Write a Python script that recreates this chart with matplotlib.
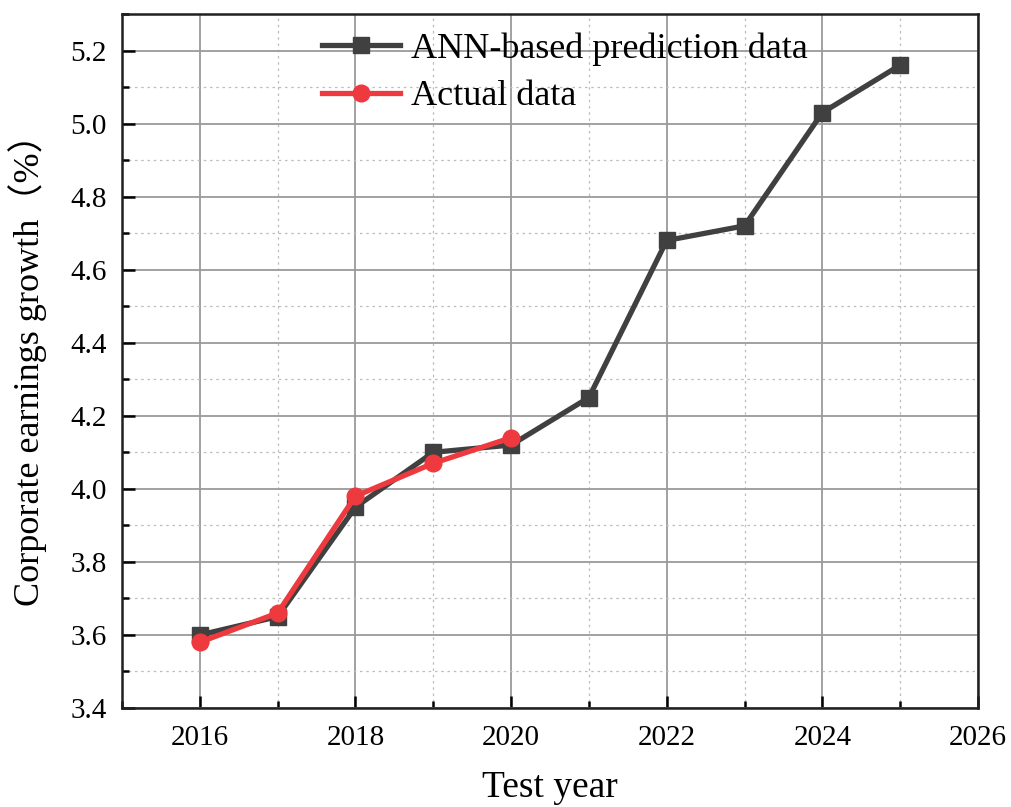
import matplotlib.pyplot as plt
from matplotlib.ticker import MultipleLocator

years_pred = [2016, 2017, 2018, 2019, 2020, 2021, 2022, 2023, 2024, 2025]
ann_pred = [3.60, 3.65, 3.95, 4.10, 4.12, 4.25, 4.68, 4.72, 5.03, 5.16]
years_actual = [2016, 2017, 2018, 2019, 2020]
actual = [3.58, 3.66, 3.98, 4.07, 4.14]

fonts = ['Liberation Serif', 'Noto Sans CJK SC', 'DejaVu Sans']
plt.rcParams['font.family'] = fonts

fig = plt.figure(figsize=(10.12, 8.07), dpi=100)
ax = fig.add_axes([122 / 1012, 1 - 708 / 807, (978 - 122) / 1012, (708 - 14) / 807])

ax.plot(years_pred, ann_pred, color='#404040', lw=3.8, marker='s', ms=11,
        label='ANN-based prediction data', zorder=3)
ax.plot(years_actual, actual, color='#ee3a3f', lw=3.8, marker='o', ms=12,
        label='Actual data', zorder=4)

ax.set_xlim(2015, 2026)
ax.set_ylim(3.4, 5.3)
ax.xaxis.set_minor_locator(MultipleLocator(1))
ax.yaxis.set_major_locator(MultipleLocator(0.2))
ax.yaxis.set_minor_locator(MultipleLocator(0.1))
ax.set_xticks([2016, 2018, 2020, 2022, 2024, 2026])
ax.yaxis.set_major_formatter(plt.FuncFormatter(lambda v, p: f'{v:.1f}'))

ax.grid(which='major', color='#9a9a9a', lw=1.3, ls='-')
ax.grid(which='minor', color='#bdbdbd', lw=0.9, ls=(0, (2, 3)))
ax.set_axisbelow(True)

ax.tick_params(which='both', direction='in', top=False, right=False, labelsize=21, width=1.8)
ax.tick_params(which='major', length=9)
ax.tick_params(which='minor', length=5)
ax.tick_params(axis='x', which='major', pad=12)
ax.tick_params(axis='y', which='major', pad=11)
for s in ax.spines.values():
    s.set_linewidth(1.8)
    s.set_color('#202020')

ax.set_xlabel('Test year', fontsize=27, labelpad=14)
ax.set_ylabel('Corporate earnings growth（%）', fontsize=26, labelpad=17)

ax.legend(loc='upper left', bbox_to_anchor=(0.234, 0.974), frameon=False, fontsize=26,
          handlelength=2.15, handletextpad=0.3, labelspacing=0.4, borderpad=0,
          borderaxespad=0)

fig.savefig('out.png', dpi=100)
